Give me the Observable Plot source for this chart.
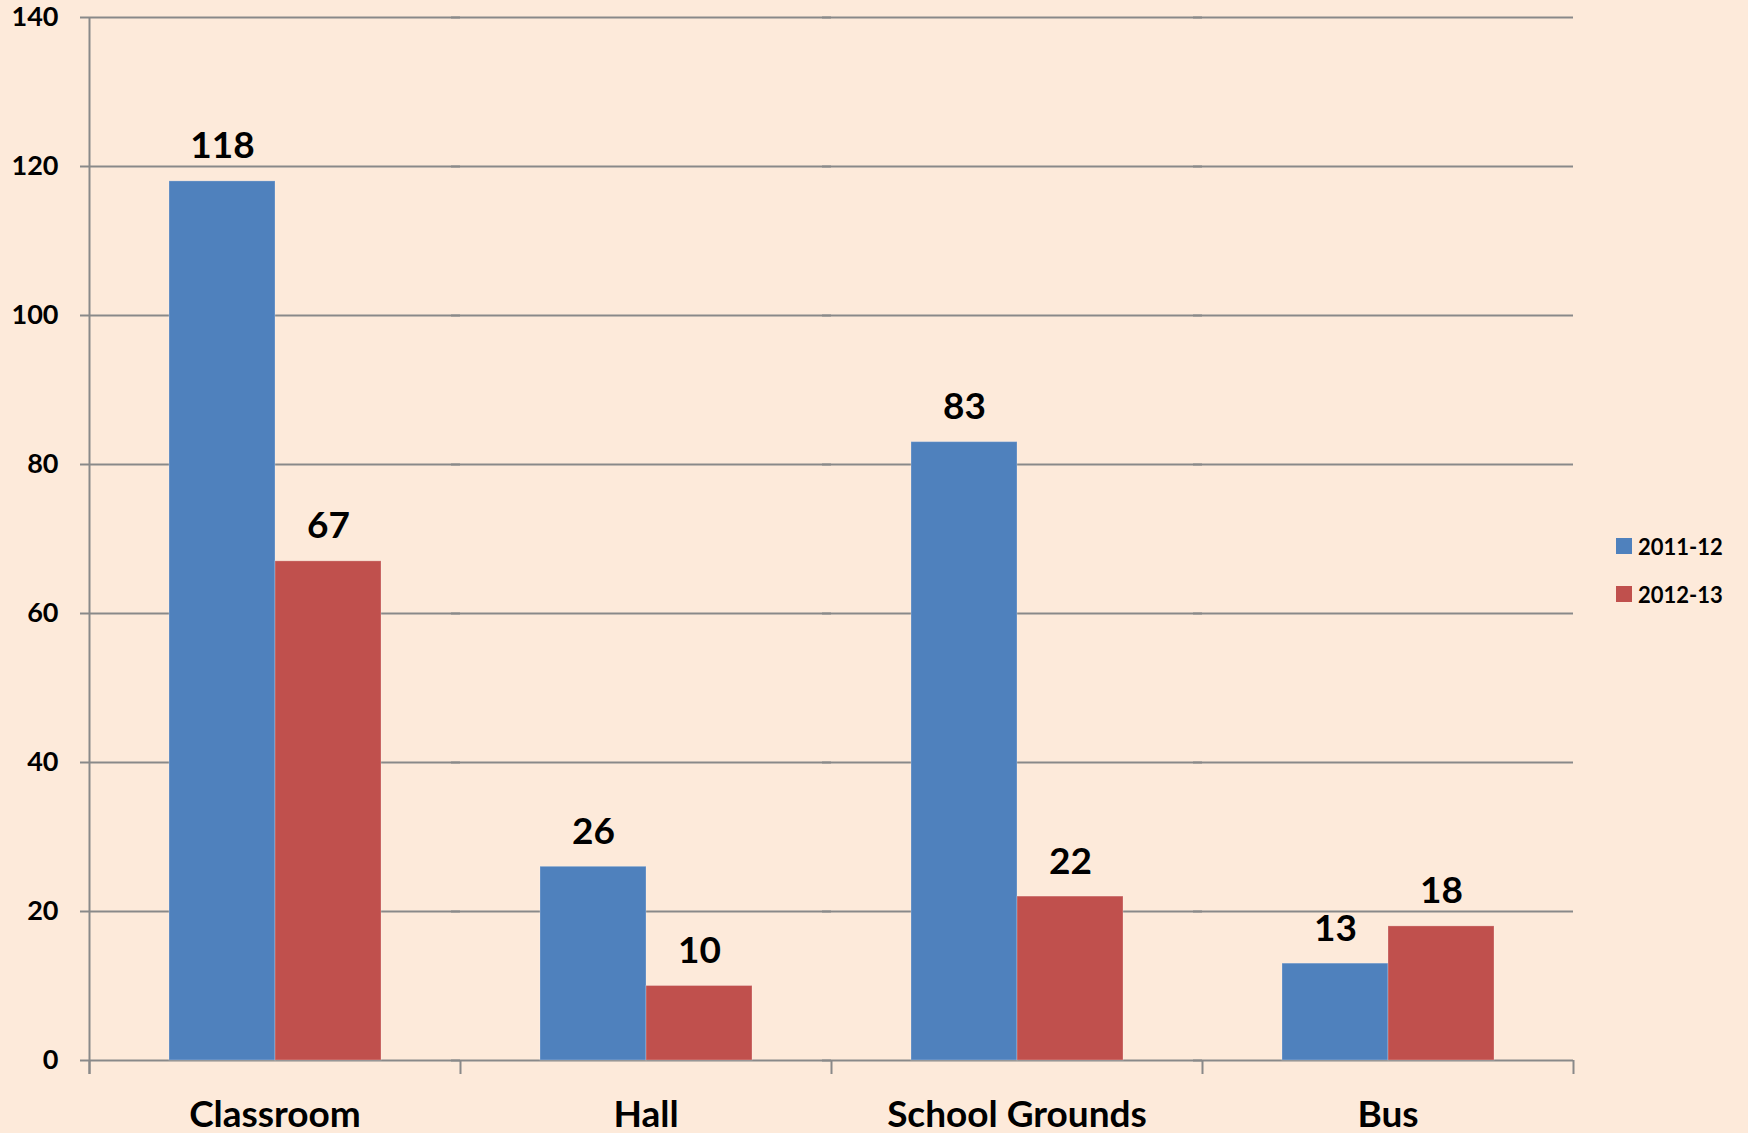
<!DOCTYPE html>
<html>
<head>
<meta charset="utf-8">
<script src="https://cdn.jsdelivr.net/npm/d3@7"></script>
<script src="https://cdn.jsdelivr.net/npm/@observablehq/plot@0.6"></script>
<style>
  html, body { margin: 0; padding: 0; background: #FDEADA; }
  #wrap { position: relative; width: 1748px; height: 1133px; overflow: hidden; font-family: Lato, "Open Sans", sans-serif; }
  #legend { position: absolute; left: 1616px; top: 522px; font-weight: bold; font-size: 22px; color: #000; }
  .item { display: flex; align-items: center; height: 48px; }
  .sw { width: 16px; height: 16px; margin-right: 6px; }
</style>
</head>
<body>
<div id="wrap"></div>
<script>
const categories = ["Classroom", "Hall", "School Grounds", "Bus"];
const series = ["2011-12", "2012-13"];
const values2011 = [118, 26, 83, 13];
const values2012 = [67, 10, 22, 18];
const yTicks = [0, 20, 40, 60, 80, 100, 120, 140];
const colors = ["#4F81BD", "#C0504D"];

const data = [];
categories.forEach((c, i) => {
  data.push({category: c, series: series[0], value: values2011[i]});
  data.push({category: c, series: series[1], value: values2012[i]});
});

const W = 1748, H = 1133;
const mL = 89, mR = 175, mT = 17, mB = 73;
const bw = (W - mL - mR) / categories.length;
const grid = "#898989";

const chart = Plot.plot({
  width: W,
  height: H,
  marginLeft: mL,
  marginRight: mR,
  marginTop: mT,
  marginBottom: mB,
  style: {background: "#FDEADA", fontFamily: "Lato, 'Open Sans', sans-serif", fontWeight: "bold", color: "#000", overflow: "visible"},
  fx: {domain: categories, padding: 0, axis: null, label: null},
  x: {domain: series, paddingInner: 0, paddingOuter: 0.75, axis: null, label: null},
  y: {domain: [0, 140], axis: null, label: null},
  color: {domain: series, range: colors},
  marks: [
    Plot.ruleY(yTicks, {y: d => d, stroke: grid, strokeWidth: 2, insetLeft: -9}),
    Plot.barY(data, {fx: "category", x: "series", y: "value", fill: "series", stroke: "#ffffff", strokeOpacity: 0.25, strokeWidth: 1}),
    // y axis line
    Plot.ruleX([categories[0]], {fx: d => d, x: null, stroke: grid, strokeWidth: 2, insetBottom: -14, dx: -bw / 2}),
    // category boundary ticks
    Plot.ruleX(categories, {fx: d => d, x: null, y1: 0, stroke: grid, strokeWidth: 2, insetBottom: -14, dx: -bw / 2}),
    Plot.ruleX([categories[categories.length - 1]], {fx: d => d, x: null, y1: 0, stroke: grid, strokeWidth: 2, insetBottom: -14, dx: bw / 2}),
    // y tick labels
    Plot.text(yTicks, {fx: () => categories[0], y: d => d, text: d => String(d), frameAnchor: "left", textAnchor: "end", lineAnchor: "middle", dx: -31, fontSize: 27, fontWeight: "bold", fill: "#000"}),
    // value labels
    Plot.text(data, {fx: "category", x: "series", y: "value", text: d => String(d.value), lineAnchor: "bottom", dy: -23, fontSize: 37, fontWeight: "bold", fill: "#000"}),
    // category labels
    Plot.text(categories, {fx: d => d, text: d => d, frameAnchor: "bottom", lineAnchor: "bottom", dy: 66, fontSize: 37, fontWeight: "bold", fill: "#000"})
  ]
});

const wrap = document.getElementById("wrap");
wrap.appendChild(chart);

const legend = document.createElement("div");
legend.id = "legend";
series.forEach((s, i) => {
  const item = document.createElement("div");
  item.className = "item";
  const sw = document.createElement("div");
  sw.className = "sw";
  sw.style.background = colors[i];
  const label = document.createElement("span");
  label.textContent = s;
  item.appendChild(sw);
  item.appendChild(label);
  legend.appendChild(item);
});
wrap.appendChild(legend);
</script>
</body>
</html>
